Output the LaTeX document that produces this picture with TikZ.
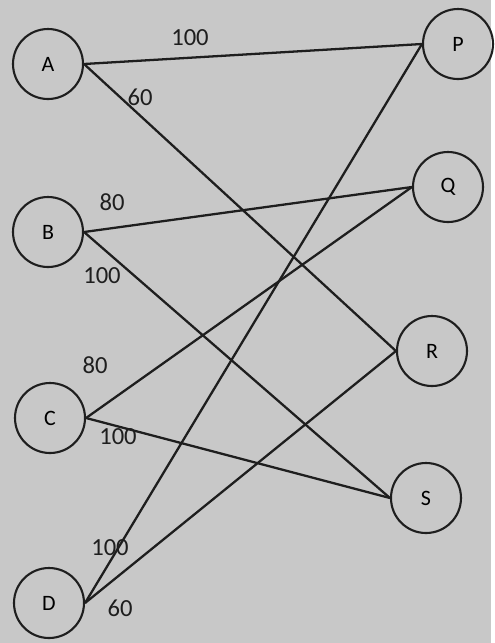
\documentclass[tikz,border=0pt]{standalone}
\usepackage{fontspec}
\setmainfont{Carlito}
\definecolor{paper}{RGB}{200,200,200}
\definecolor{ink}{RGB}{30,30,30}
\tikzset{
    vertex/.style={circle, draw=ink, line width=1.2pt, minimum size=1.4cm, inner sep=0pt, font=\fontsize{12.5}{14}\selectfont},
    edge/.style={draw=ink, line width=1.3pt},
    weight/.style={font=\fontsize{14}{16}\selectfont, text=ink}
}
\begin{document}
\begin{tikzpicture}
    % background (fixes the size too)
    \fill[paper] (0,0) rectangle (9.82,-12.86);

    % Left column
    \foreach \p/\x/\y in {A/0.96/-1.28, B/0.96/-4.64, C/1.0/-8.36, D/0.98/-12.06} {
        \node[vertex] (\p) at (\x,\y) {\p};
    }
    % Right column
    \foreach \p/\x/\y in {P/9.16/-0.88, Q/8.96/-3.74, R/8.64/-7.02, S/8.52/-9.96} {
        \node[vertex] (\p) at (\x,\y) {\p};
    }

    % Edges
    \draw[edge] (A.east) -- (P.west);
    \draw[edge] (A.east) -- (R.west);
    \draw[edge] (B.east) -- (Q.west);
    \draw[edge] (B.east) -- (S.west);
    \draw[edge] (C.east) -- (Q.west);
    \draw[edge] (C.east) -- (S.west);
    \draw[edge] (D.east) -- (P.west);
    \draw[edge] (D.east) -- (R.west);

    % Weights
    \node[weight] (wAP) at (3.8,-0.76) {100};
    \node[weight] (wAR) at (2.8,-1.94) {60};
    \node[weight] (wBQ) at (2.24,-4.04) {80};
    \node[weight] (wBS) at (2.04,-5.52) {100};
    \node[weight] (wCQ) at (1.9,-7.3) {80};
    \node[weight] (wCS) at (2.36,-8.74) {100};
    \node[weight] (wDP) at (2.2,-10.96) {100};
    \node[weight] (wDR) at (2.4,-12.16) {60};
\end{tikzpicture}
\end{document}
